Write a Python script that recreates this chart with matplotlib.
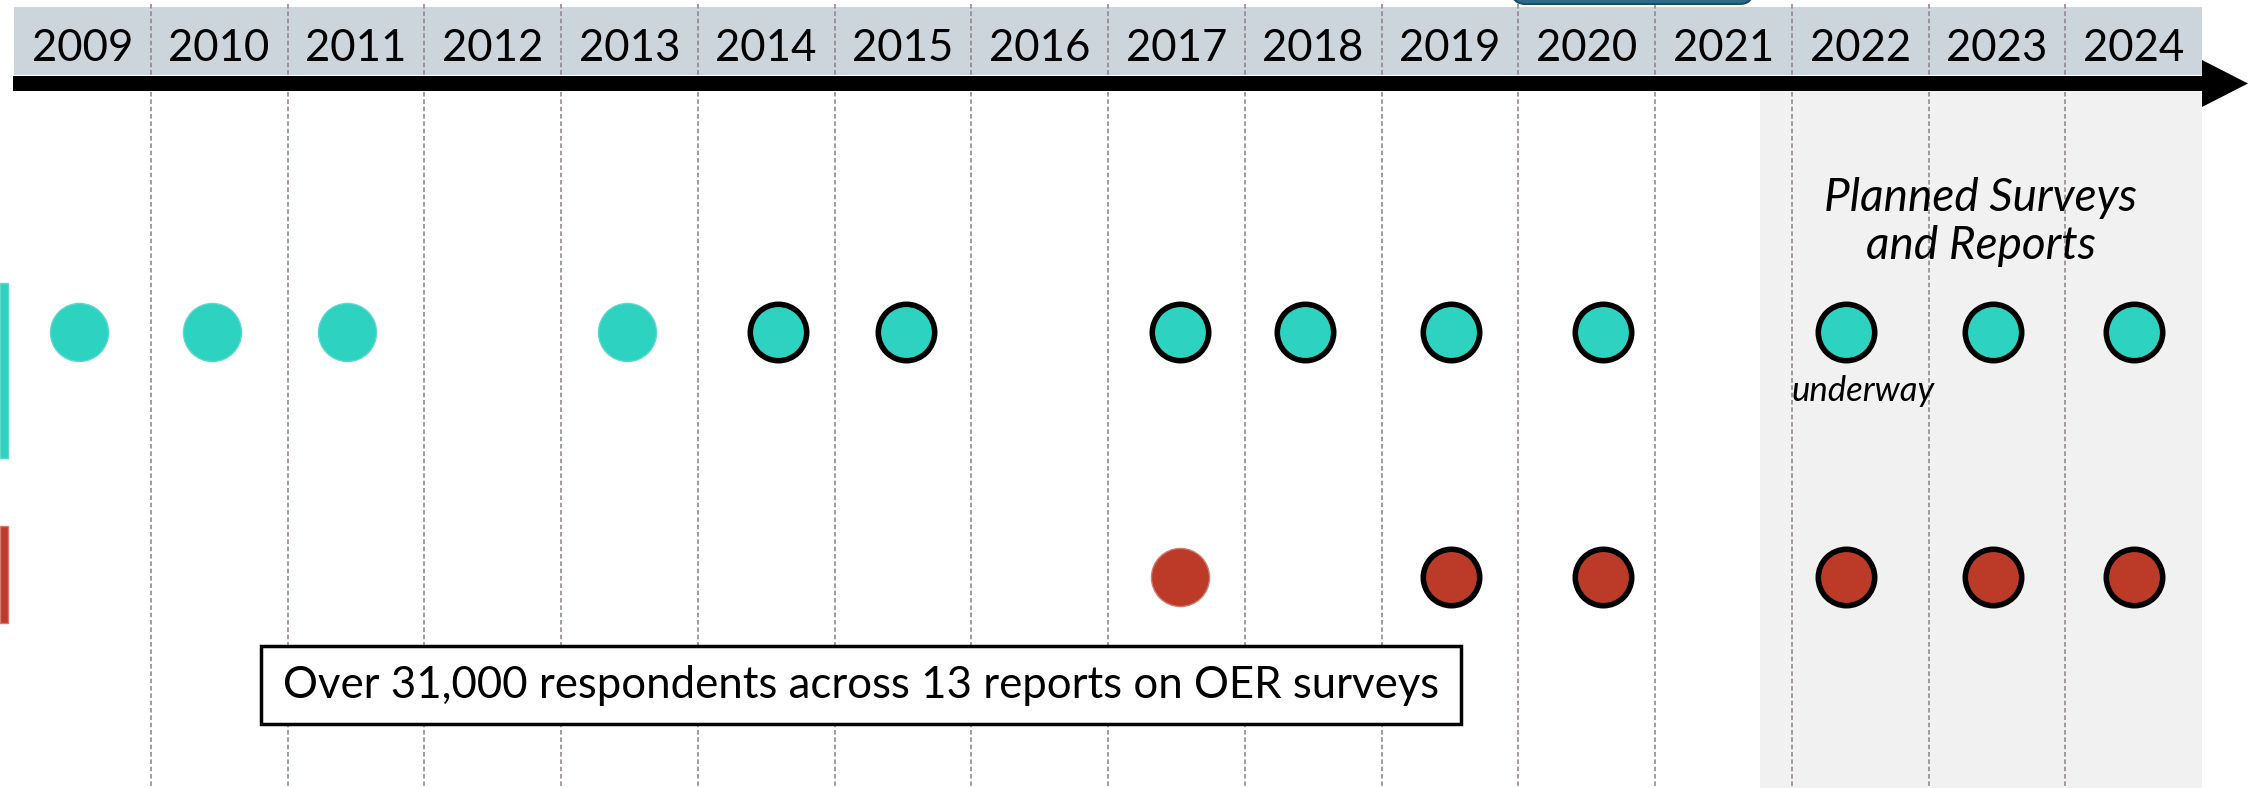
"""
Timeline of OER surveys and reports, 2009-2024
"""
import matplotlib.pyplot as plt
from matplotlib.patches import Rectangle, Polygon, FancyBboxPatch

years = list(range(2009, 2025))

# teal row: surveys, as placed on the timeline (year units)
survey_x = [2008.975, 2009.95, 2010.935, 2012.98, 2014.09, 2015.02,
            2017.03, 2017.94, 2019.01, 2020.12, 2021.90, 2022.97, 2024.0]
survey_outlined = [False, False, False, False, True, True,
                   True, True, True, True, True, True, True]

# red row: reports
report_x = [2017.03, 2019.01, 2020.12, 2021.90, 2022.97, 2024.0]
report_outlined = [False, True, True, True, True, True]

box_text = "Over 31,000 respondents across 13 reports on OER surveys"
planned_text = "Planned Surveys\nand Reports"
underway_text = "underway"

W, H = 2249, 788
COL = 136.75   # pixels per year column
X0 = 14        # left edge of the 2009 column


def xpx(p):
    """pixel column -> year units"""
    return 2008.5 + (p - X0) / COL


FONT = "Lato"
TEAL = "#2dd2c0"
RED = "#bb3b28"

fig = plt.figure(figsize=(W / 100, H / 100), dpi=100)
ax = fig.add_axes([0, 0, 1, 1])
ax.set_xlim(xpx(0), xpx(W))
ax.set_ylim(H, 0)
ax.axis("off")

# planned area shading
ax.add_patch(Rectangle((xpx(1760), 91), xpx(2202) - xpx(1760), H - 91,
                       fc="#f1f1f1", ec="none", zorder=0))

# header band with years
ax.add_patch(Rectangle((xpx(14), 7), xpx(2202) - xpx(14), 68,
                       fc="#cdd5dc", ec="none", zorder=1))
for yr in years:
    ax.text(yr, 48, str(yr), ha="center", va="center", fontsize=31.5,
            family=FONT, zorder=4)

# dashed column dividers
ax.vlines([yr + 0.5 for yr in years[:-1]], 4, H, colors="#8c8080",
          linestyles=(0, (3, 1.8)), lw=1.1, zorder=2)

# black timeline arrow
ax.add_patch(Rectangle((xpx(13), 76), xpx(2203) - xpx(13), 15,
                       fc="black", ec="none", zorder=3))
ax.add_patch(Polygon([(xpx(2202), 60), (xpx(2248), 83.5), (xpx(2202), 107)],
                     closed=True, fc="black", ec="none", zorder=3))

# cut-off box at the very top
ax.add_patch(FancyBboxPatch((xpx(1512), -40), xpx(1753) - xpx(1512), 44,
                            boxstyle="round,pad=0,rounding_size=0.1",
                            mutation_aspect=COL, fc="#2e6a8a", ec="#1c4c66",
                            lw=1.5, zorder=3))

# row markers at the left edge
ax.add_patch(Rectangle((xpx(0), 283), xpx(8) - xpx(0), 175,
                       fc=TEAL, ec="#5fd8cb", lw=1, zorder=3))
ax.add_patch(Rectangle((xpx(0), 526), xpx(8) - xpx(0), 97,
                       fc=RED, ec="#d27a6e", lw=1, zorder=3))


def draw_row(xs, outlined, y, color, light):
    plain = [x for x, o in zip(xs, outlined) if not o]
    bold = [x for x, o in zip(xs, outlined) if o]
    ax.scatter(plain, [y] * len(plain), s=1750, c=color, edgecolors=light,
               linewidths=1, zorder=5)
    ax.scatter(bold, [y] * len(bold), s=1650, c=color, edgecolors="black",
               linewidths=4, zorder=5)


draw_row(survey_x, survey_outlined, 332, TEAL, "#5fd8cb")
draw_row(report_x, report_outlined, 577, RED, "#d27a6e")

ax.text(xpx(1981), 222, planned_text, ha="center", va="center",
        fontsize=33, style="italic", family=FONT, linespacing=1.2, zorder=4)
ax.text(xpx(1863), 391, underway_text, ha="center", va="center",
        fontsize=25, style="italic", family=FONT, zorder=4)

# summary box
ax.add_patch(Rectangle((xpx(261), 646), xpx(1461) - xpx(261), 78,
                       fc="white", ec="black", lw=2.5, zorder=6))
ax.text(xpx(861), 686, box_text, ha="center", va="center", fontsize=31.5,
        family=FONT, zorder=7)

fig.savefig("out.png", dpi=100)
